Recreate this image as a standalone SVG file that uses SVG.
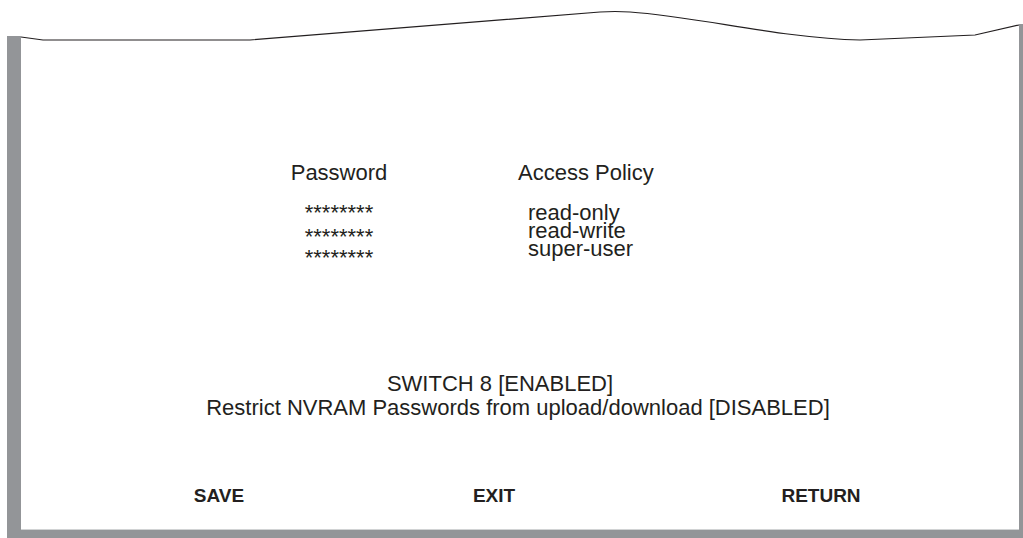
<svg xmlns="http://www.w3.org/2000/svg" width="1023" height="538" viewBox="0 0 1023 538">
<style>
.t{font-family:"Liberation Sans",Arial,sans-serif;font-size:22px;fill:#231f20}
.b{font-family:"Liberation Sans",Arial,sans-serif;font-size:19px;font-weight:bold;fill:#231f20}
.frame{fill:#939598}
</style>
<rect width="1023" height="538" fill="#fff"/>
<g id="frame">
<rect class="frame" x="7" y="36" width="14" height="502"/>
<rect class="frame" x="7" y="530" width="1016" height="8"/>
<rect class="frame" x="1019" y="24" width="4" height="514"/>
<line x1="21" y1="529.5" x2="1019" y2="529.5" stroke="#d1d3d4" stroke-width="1"/>
<path d="M21,37 L43,40 L250,40 L600,12 Q615,11 630,12 C700,17 780,38 860,40 L975,35 L1019,25" fill="none" stroke="#231f20" stroke-width="1.2"/>
</g>
<g id="password-col">
<text class="t" x="339" y="180" text-anchor="middle">Password</text>
<text class="t" x="339" y="220" text-anchor="middle">********</text>
<text class="t" x="339" y="244" text-anchor="middle">********</text>
<text class="t" x="339" y="265" text-anchor="middle">********</text>
</g>
<g id="policy-col">
<text class="t" x="528" y="220">read-only</text>
<text class="t" x="528" y="238">read-write</text>
<text class="t" x="528" y="256">super-user</text>
<text class="t" x="518" y="180">Access Policy</text>
</g>
<g id="status">
<text class="t" x="500" y="391" text-anchor="middle">SWITCH 8 [ENABLED]</text>
<text class="t" x="518" y="415" text-anchor="middle">Restrict NVRAM Passwords from upload/download [DISABLED]</text>
</g>
<g id="buttons">
<text class="b" x="219" y="502" text-anchor="middle">SAVE</text>
<text class="b" x="494" y="502" text-anchor="middle">EXIT</text>
<text class="b" x="821" y="502" text-anchor="middle">RETURN</text>
</g>
<g id="connectors"/>
</svg>
